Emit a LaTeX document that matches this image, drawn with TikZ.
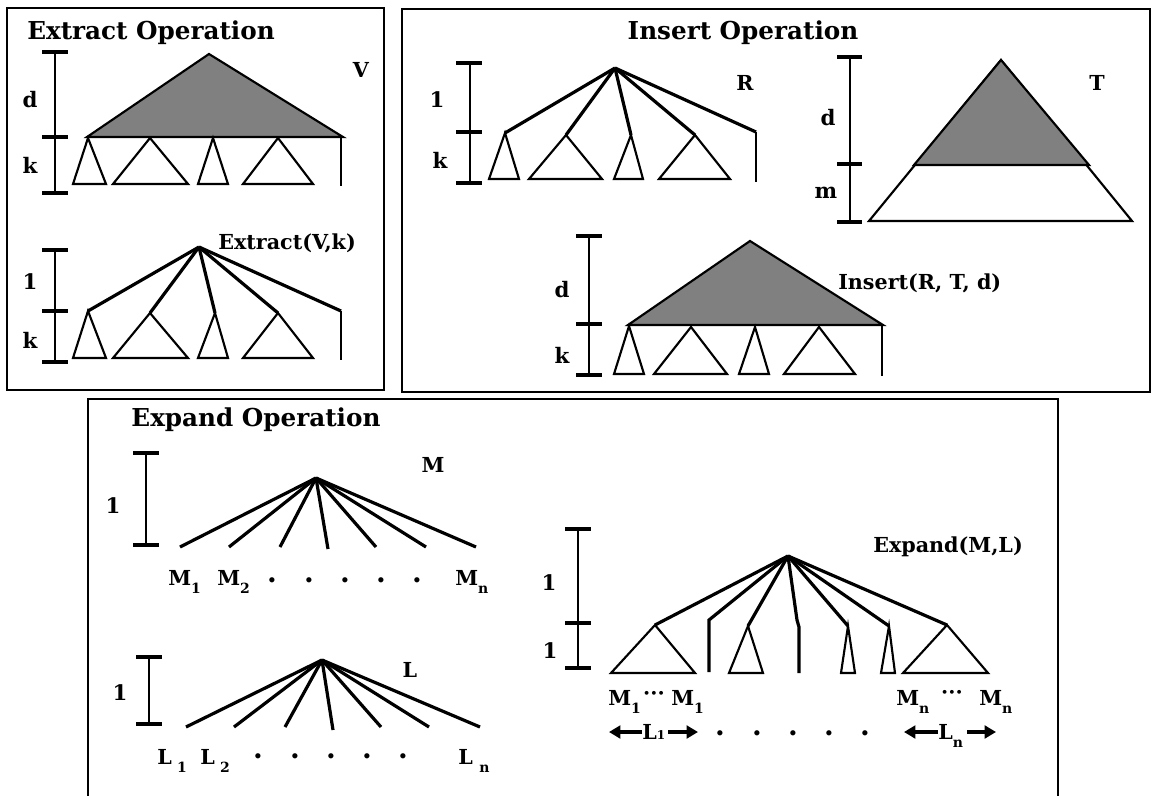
\documentclass[tikz,border=0pt]{standalone}
\usepackage{fontspec}
\setmainfont{DejaVu Serif}
\usetikzlibrary{arrows.meta}
\definecolor{gtfill}{RGB}{128,128,128}
\newcommand\sub[1]{\raisebox{-0.42em}{\fontsize{10.5}{10.5}\selectfont #1}}
\tikzset{
 box/.style={line width=2pt},
 branch/.style={line width=2.4pt},
 tri/.style={line width=1.6pt, fill=white},
 gtri/.style={line width=1.6pt, fill=gtfill},
 bar/.style={line width=1.6pt},
 tick/.style={line width=2.4pt},
 lbl/.style={font=\bfseries\fontsize{15.5}{15.5}\selectfont, inner sep=0pt},
 ttl/.style={font=\bfseries\fontsize{18.5}{18.5}\selectfont, inner sep=0pt},
 barlbl/.style={font=\bfseries\fontsize{16}{16}\selectfont, inner sep=0pt},
 dotlbl/.style={font=\bfseries\fontsize{21}{21}\selectfont, inner sep=0pt},
 arr/.style={line width=2.4pt, -{Triangle[length=8.5pt,width=9.5pt]}},
}
\begin{document}
\begin{tikzpicture}[x=0.75pt,y=-0.75pt]
\useasboundingbox (0,0) rectangle (1153,796);
% ---------------- boxes
\draw[box] (7,8) rectangle (384,390);
\draw[box] (402,9) rectangle (1150,392);
\draw[box] (88,800) -- (88,399) -- (1058,399) -- (1058,800);
% ---------------- titles
\node[ttl] (t1) at (151,33) {Extract Operation};
\node[ttl] (t2) at (743,33) {Insert Operation};
\node[ttl] (t3) at (256,420) {Expand Operation};

% ================= Extract: V
\draw[bar] (55,52) -- (55,193);
\draw[tick] (42,52) -- (68,52); \draw[tick] (42,137) -- (68,137); \draw[tick] (42,193) -- (68,193);
\node[barlbl] (vd) at (30,100) {d};
\node[barlbl] (vk) at (30,165) {k};
\draw[gtri] (209,54) -- (343,137) -- (87,137) -- cycle;
\draw[tri] (88,138) -- (106,184) -- (73,184) -- cycle;
\draw[tri] (150,138) -- (188,184) -- (113,184) -- cycle;
\draw[tri] (213,138) -- (228,184) -- (198,184) -- cycle;
\draw[tri] (278,138) -- (313,184) -- (243,184) -- cycle;
\draw[tri] (341,137) -- (341,186);
\node[lbl] (V) at (361,70) {V};

% ================= Extract(V,k)
\draw[bar] (55,250) -- (55,362);
\draw[tick] (42,250) -- (68,250); \draw[tick] (42,311) -- (68,311); \draw[tick] (42,362) -- (68,362);
\node[barlbl] (e1) at (30,282) {1};
\node[barlbl] (ek) at (30,340) {k};
\coordinate (er) at (199,247);
\coordinate (ec1) at (88,311);
\coordinate (ec2) at (150,313);
\coordinate (ec3) at (215,313);
\coordinate (ec4) at (278,313);
\coordinate (ec5) at (341,311);
\coordinate (ec5b) at (341,360);
\draw[tri] (ec1) -- (106,358) -- (73,358) -- cycle;
\draw[tri] (ec2) -- (188,358) -- (113,358) -- cycle;
\draw[tri] (ec3) -- (228,358) -- (198,358) -- cycle;
\draw[tri] (ec4) -- (313,358) -- (243,358) -- cycle;
\foreach \c in {ec1,ec2,ec3,ec4,ec5} \draw[branch] (er) -- (\c);
\draw[tri] (ec5) -- (ec5b);
\node[lbl,anchor=west] (EVk) at (218,243) {Extract(V,k)};

% ================= Insert: R
\draw[bar] (470,63) -- (470,183);
\draw[tick] (456,63) -- (482,63); \draw[tick] (456,132) -- (482,132); \draw[tick] (456,183) -- (482,183);
\node[barlbl] (r1) at (437,100) {1};
\node[barlbl] (rk) at (440,160) {k};
\coordinate (rr) at (615,68);
\coordinate (rc1) at (505,133);
\coordinate (rc2) at (566,135);
\coordinate (rc3) at (631,135);
\coordinate (rc4) at (695,135);
\coordinate (rc5) at (756,132);
\coordinate (rc5b) at (756,182);
\draw[tri] (rc1) -- (519,179) -- (489,179) -- cycle;
\draw[tri] (rc2) -- (602,179) -- (529,179) -- cycle;
\draw[tri] (rc3) -- (643,179) -- (614,179) -- cycle;
\draw[tri] (rc4) -- (730,179) -- (659,179) -- cycle;
\foreach \c in {rc1,rc2,rc3,rc4,rc5} \draw[branch] (rr) -- (\c);
\draw[tri] (rc5) -- (rc5b);
\node[lbl] (R) at (745,83) {R};

% ================= Insert: T
\draw[bar] (850,57) -- (850,222);
\draw[tick] (837,57) -- (862,57); \draw[tick] (837,164) -- (862,164); \draw[tick] (837,222) -- (862,222);
\node[barlbl] (td) at (828,118) {d};
\node[barlbl] (tm) at (826,193) {m};
\draw[tri] (1001,60) -- (1132,221) -- (869,221) -- cycle;
\draw[gtri] (1001,60) -- (1089,165) -- (914,165) -- cycle;
\node[lbl] (T) at (1097,83) {T};

% ================= Insert(R,T,d)
\draw[bar] (589,236) -- (589,375);
\draw[tick] (576,236) -- (602,236); \draw[tick] (576,324) -- (602,324); \draw[tick] (576,375) -- (602,375);
\node[barlbl] (id) at (562,290) {d};
\node[barlbl] (ik) at (562,355) {k};
\draw[gtri] (750,241) -- (883,325) -- (628,325) -- cycle;
\draw[tri] (629,326) -- (644,374) -- (614,374) -- cycle;
\draw[tri] (691,327) -- (727,374) -- (654,374) -- cycle;
\draw[tri] (755,327) -- (769,374) -- (739,374) -- cycle;
\draw[tri] (819,327) -- (855,374) -- (784,374) -- cycle;
\draw[tri] (882,325) -- (882,376);
\node[lbl,anchor=west] (IRTd) at (838,283) {Insert(R, T, d)};

% ================= Expand: M
\draw[bar] (146,453) -- (146,545);
\draw[tick] (133,453) -- (159,453); \draw[tick] (133,545) -- (159,545);
\node[barlbl] (m1) at (113,506) {1};
\coordinate (mr) at (316,478);
\coordinate (m1c) at (180,547);
\coordinate (m2c) at (229,547);
\coordinate (m3c) at (280,547);
\coordinate (m4c) at (328,549);
\coordinate (m5c) at (376,547);
\coordinate (m6c) at (426,547);
\coordinate (m7c) at (476,547);
\foreach \c in {m1c,m2c,m3c,m4c,m5c,m6c,m7c} \draw[branch] (mr) -- (\c);
\node[lbl] (Mlab) at (433,465) {M};
\node[lbl,anchor=base west] (M1) at (168,585) {M\sub{1}};
\node[lbl,anchor=base west] (M2) at (217,585) {M\sub{2}};
\node[lbl,anchor=base west] (Mn) at (455,585) {M\sub{n}};
\foreach \x [count=\i] in {272,309,345,381,417} \node[dotlbl] (md\i) at (\x,580) {.};

% ================= Expand: L
\draw[bar] (149,657) -- (149,724);
\draw[tick] (136,657) -- (162,657); \draw[tick] (136,724) -- (162,724);
\node[barlbl] (l1) at (120,693) {1};
\coordinate (lr) at (322,660);
\coordinate (l1c) at (186,727);
\coordinate (l2c) at (234,727);
\coordinate (l3c) at (285,727);
\coordinate (l4c) at (333,730);
\coordinate (l5c) at (381,727);
\coordinate (l6c) at (429,727);
\coordinate (l7c) at (480,727);
\foreach \c in {l1c,l2c,l3c,l4c,l5c,l6c,l7c} \draw[branch] (lr) -- (\c);
\node[lbl] (Llab) at (410,670) {L};
\node[lbl,anchor=base west] (L1) at (157,764) {L\hspace{4pt}\sub{1}};
\node[lbl,anchor=base west] (L2) at (200,764) {L\hspace{4pt}\sub{2}};
\node[lbl,anchor=base west] (Ln) at (458,764) {L\hspace{5pt}\sub{n}};
\foreach \x [count=\i] in {258,295,331,367,403} \node[dotlbl] (ld\i) at (\x,756) {.};

% ================= Expand(M,L)
\draw[bar] (578,529) -- (578,668);
\draw[tick] (565,529) -- (591,529); \draw[tick] (565,623) -- (591,623); \draw[tick] (565,668) -- (591,668);
\node[barlbl] (x1) at (549,583) {1};
\node[barlbl] (x2) at (550,651) {1};
\coordinate (xr) at (788,556);
\coordinate (xc1) at (655,625);
\coordinate (xc2) at (709,620);
\coordinate (xc2b) at (709,672);
\coordinate (xc3) at (748,626);
\coordinate (xc4) at (797,620);
\coordinate (xc4m) at (799,627);
\coordinate (xc4b) at (799,673);
\coordinate (xc5) at (848,626);
\coordinate (xc6) at (889,626);
\coordinate (xc7) at (947,625);
\draw[tri] (xc1) -- (695,673) -- (611,673) -- cycle;
\draw[tri] (xc3) -- (763,673) -- (729,673) -- cycle;
\draw[tri] (xc5) -- (855,673) -- (841,673) -- cycle;
\draw[tri] (xc6) -- (895,673) -- (881,673) -- cycle;
\draw[tri] (xc7) -- (988,673) -- (903,673) -- cycle;
\foreach \c in {xc1,xc3,xc5,xc6,xc7} \draw[branch] (xr) -- (\c);
\draw[branch] (xr) -- (xc2) -- (xc2b);
\draw[branch] (xr) -- (xc4) -- (xc4m) -- (xc4b);
\node[lbl,anchor=west] (EML) at (873,547) {Expand(M,L)};

\node[lbl,anchor=base west] (XM1a) at (608,705) {M\sub{1}};
\node[lbl,anchor=base] (XD1) at (654,700) {···};
\node[lbl,anchor=base west] (XM1b) at (671,705) {M\sub{1}};
\node[lbl,anchor=base west] (XMna) at (896,705) {M\sub{n}};
\node[lbl,anchor=base] (XD2) at (952,699) {···};
\node[lbl,anchor=base west] (XMnb) at (979,705) {M\sub{n}};

\node[lbl,anchor=base west] (XL1) at (642,739) {L{\fontsize{9}{9}\selectfont 1}};
\coordinate (XL1l) at (609,732);
\coordinate (XL1r0) at (668,732);
\coordinate (XL1r) at (698,732);
\draw[arr] (XL1.west |- XL1l) -- (XL1l);
\draw[arr] (XL1r0) -- (XL1r);
\node[lbl,anchor=base west] (XLn) at (938,739) {L\sub{n}};
\coordinate (XLnl) at (904,732);
\coordinate (XLnr0) at (967,732);
\coordinate (XLnr) at (996,732);
\draw[arr] (XLn.west |- XLnl) -- (XLnl);
\draw[arr] (XLnr0) -- (XLnr);
\foreach \x [count=\i] in {720,757,793,829,865} \node[dotlbl] (xd\i) at (\x,733) {.};
\end{tikzpicture}
\end{document}
